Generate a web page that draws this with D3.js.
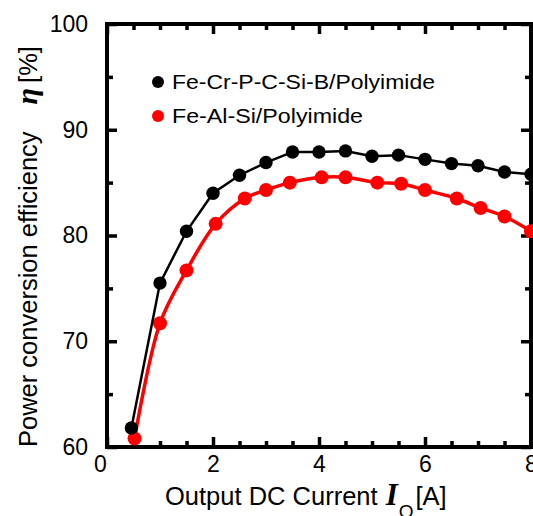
<!DOCTYPE html>
<html><head><meta charset="utf-8">
<script src="https://cdn.jsdelivr.net/npm/d3@7"></script>
<style>body{margin:0;background:#fff;overflow:hidden}</style>
</head><body><svg id="c" width="533" height="516"></svg>
<script>
// ---- data ----
const blackX = [0.46, 1.0, 1.5, 2.0, 2.5, 3.0, 3.5, 4.0, 4.5, 5.0, 5.5, 6.0, 6.5, 7.0, 7.5, 8.0];
const blackY = [61.8, 75.5, 80.4, 84.0, 85.7, 86.9, 87.9, 87.9, 88.0, 87.5, 87.6, 87.2, 86.8, 86.6, 86.0, 85.8];
const redX = [0.52, 1.0, 1.5, 2.05, 2.6, 3.0, 3.45, 4.05, 4.5, 5.1, 5.55, 6.0, 6.6, 7.05, 7.5, 8.0];
const redY = [60.8, 71.7, 76.7, 81.1, 83.5, 84.3, 85.0, 85.5, 85.5, 85.0, 84.9, 84.3, 83.5, 82.6, 81.8, 80.4];
const seriesNames = ["Fe-Cr-P-C-Si-B/Polyimide", "Fe-Al-Si/Polyimide"];
const seriesColors = ["#000000", "#ff0000"];
const xMajorTicks = [0, 2, 4, 6, 8];
const xMinorTicks = [0.5, 1, 1.5, 2.5, 3, 3.5, 4.5, 5, 5.5, 6.5, 7, 7.5];
const yMajorTicks = [60, 70, 80, 90, 100];
const yMinorTicks = [65, 75, 85, 95];

const svg = d3.select("#c");
const L = 107, R = 531, T = 24, B = 447;
const x = d3.scaleLinear().domain([0, 8]).range([L, R]);
const y = d3.scaleLinear().domain([60, 100]).range([B, T]);
const font = "'Liberation Sans', Arial, Helvetica, sans-serif";
const serif = "'Liberation Serif', 'Times New Roman', serif";

// frame
svg.append("rect").attr("x", L).attr("y", T).attr("width", R - L).attr("height", B - T)
  .attr("fill", "none").attr("stroke", "#000").attr("stroke-width", 4);

function styleAxis(g) {
  g.select(".domain").remove();
  g.selectAll(".tick line").attr("stroke", "#000").attr("stroke-width", 3.5);
  g.selectAll(".tick text").attr("font-family", font).attr("font-size", 23).attr("fill", "#000");
}
// bottom
svg.append("g").attr("transform", `translate(0,${B})`)
  .call(d3.axisBottom(x).tickValues(xMajorTicks).tickSizeInner(-10).tickSizeOuter(0).tickPadding(9).tickFormat(d3.format("d")))
  .call(styleAxis)
  .call(g => g.selectAll(".tick text").attr("dx", d => d === 0 ? -7 : 0));
svg.append("g").attr("transform", `translate(0,${B})`)
  .call(d3.axisBottom(x).tickValues(xMinorTicks).tickSizeInner(-6).tickSizeOuter(0).tickFormat(""))
  .call(styleAxis);
// top
svg.append("g").attr("transform", `translate(0,${T})`)
  .call(d3.axisTop(x).tickValues(xMajorTicks).tickSizeInner(-10).tickSizeOuter(0).tickFormat(""))
  .call(styleAxis);
svg.append("g").attr("transform", `translate(0,${T})`)
  .call(d3.axisTop(x).tickValues(xMinorTicks).tickSizeInner(-6).tickSizeOuter(0).tickFormat(""))
  .call(styleAxis);
// left
svg.append("g").attr("transform", `translate(${L},0)`)
  .call(d3.axisLeft(y).tickValues(yMajorTicks).tickSizeInner(-10).tickSizeOuter(0).tickPadding(19).tickFormat(d3.format("d")))
  .call(styleAxis);
svg.append("g").attr("transform", `translate(${L},0)`)
  .call(d3.axisLeft(y).tickValues(yMinorTicks).tickSizeInner(-6).tickSizeOuter(0).tickFormat(""))
  .call(styleAxis);
// right
svg.append("g").attr("transform", `translate(${R},0)`)
  .call(d3.axisRight(y).tickValues(yMajorTicks).tickSizeInner(-10).tickSizeOuter(0).tickFormat(""))
  .call(styleAxis);
svg.append("g").attr("transform", `translate(${R},0)`)
  .call(d3.axisRight(y).tickValues(yMinorTicks).tickSizeInner(-6).tickSizeOuter(0).tickFormat(""))
  .call(styleAxis);

// series
const red = redX.map((v, i) => [v, redY[i]]);
const black = blackX.map((v, i) => [v, blackY[i]]);
svg.append("path").datum(red)
  .attr("d", d3.line().x(d => x(d[0])).y(d => y(d[1])).curve(d3.curveCatmullRom.alpha(0.5)))
  .attr("fill", "none").attr("stroke", seriesColors[1]).attr("stroke-width", 3.5);
svg.append("g").selectAll("circle").data(red).join("circle")
  .attr("cx", d => x(d[0])).attr("cy", d => y(d[1])).attr("r", 7).attr("fill", seriesColors[1]);
svg.append("path").datum(black)
  .attr("d", d3.line().x(d => x(d[0])).y(d => y(d[1])))
  .attr("fill", "none").attr("stroke", seriesColors[0]).attr("stroke-width", 2.5);
svg.append("g").selectAll("circle").data(black).join("circle")
  .attr("cx", d => x(d[0])).attr("cy", d => y(d[1])).attr("r", 6.7).attr("fill", seriesColors[0]);

// legend
const leg = svg.append("g");
seriesNames.forEach((name, i) => {
  const cy = 82 + i * 34;
  leg.append("circle").attr("cx", 158).attr("cy", cy).attr("r", 6).attr("fill", seriesColors[i]);
  leg.append("text").attr("x", 172).attr("y", cy + 7).attr("font-family", font).attr("font-size", 21)
    .attr("textLength", i === 0 ? 263 : 191).attr("lengthAdjust", "spacingAndGlyphs")
    .text(name);
});

// x title
const xt = svg.append("text").attr("x", 165).attr("y", 505)
  .attr("font-family", font).attr("font-size", 25.5).attr("fill", "#000");
xt.append("tspan").text("Output DC Current ");
xt.append("tspan").attr("font-family", serif).attr("font-weight", "bold").attr("font-style", "italic").attr("font-size", 31).attr("dx", 1).text("I");
xt.append("tspan").attr("font-size", 19).attr("dy", 13).attr("dx", 1).text("O");
xt.append("tspan").attr("dy", -13).attr("dx", 2).text("[A]");

// y title
const yt = svg.append("text").attr("transform", "translate(37,447) rotate(-90)")
  .attr("font-family", font).attr("font-size", 25.5).attr("fill", "#000");
yt.append("tspan").text("Power conversion efficiency");
yt.append("tspan").attr("font-family", serif).attr("font-weight", "bold").attr("font-style", "italic").attr("font-size", 30).attr("dx", 27).text("η");
yt.append("tspan").attr("dx", 5).text("[%]");
</script>
</body></html>
